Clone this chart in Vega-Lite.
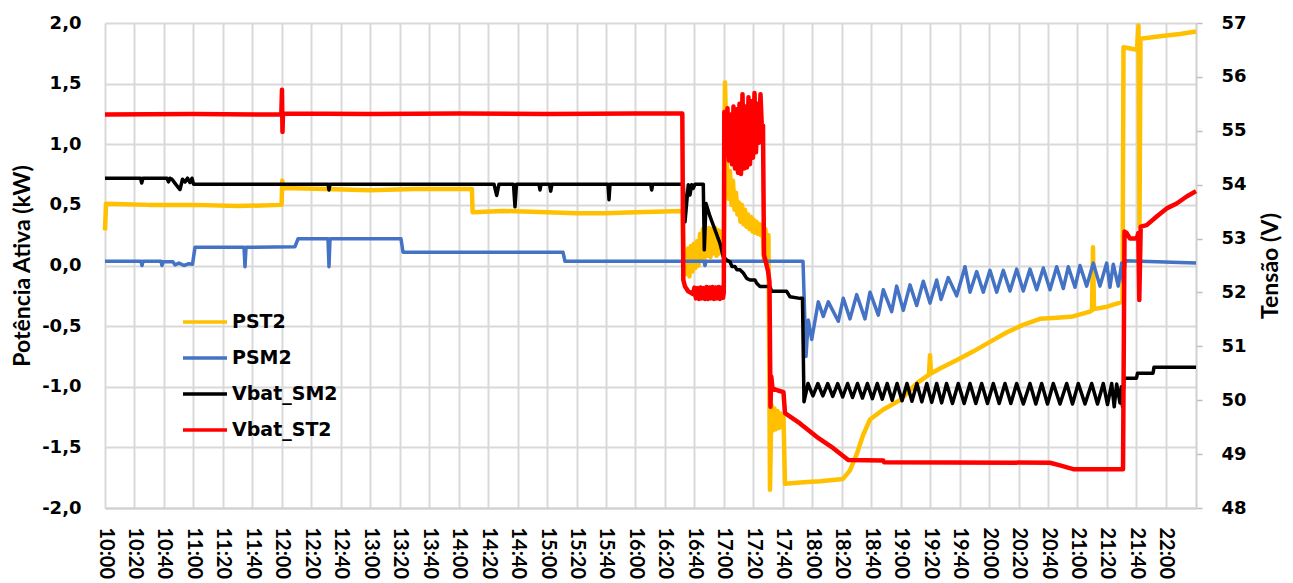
{
  "$schema": "https://vega.github.io/schema/vega-lite/v6.json",
  "width": 1091,
  "height": 485,
  "autosize": "none",
  "padding": {"left": 105, "top": 23, "right": 97, "bottom": 75},
  "background": "#ffffff",
  "config": {
    "view": {"stroke": null},
    "line": {"strokeJoin": "round", "strokeCap": "butt"},
    "legend": {
      "orient": "none", "legendX": 87, "legendY": 286, "title": null,
      "symbolType": "M-2,0H2", "symbolSize": 484, "symbolStrokeWidth": 3.5,
      "labelFont": "DejaVu Sans", "labelFontWeight": "bold", "labelFontSize": 19, "labelColor": "#000000",
      "labelOffset": 14, "rowPadding": 13, "padding": 0
    }
  },
  "datasets": {
    "pst2": [
      {"t": "2021-06-01T10:00:00", "v": 0.29}, {"t": "2021-06-01T10:00:41", "v": 0.51}, {"t": "2021-06-01T10:30:00", "v": 0.50},
      {"t": "2021-06-01T11:00:00", "v": 0.50}, {"t": "2021-06-01T11:30:00", "v": 0.49}, {"t": "2021-06-01T11:59:50", "v": 0.50},
      {"t": "2021-06-01T12:00:20", "v": 0.70}, {"t": "2021-06-01T12:01:00", "v": 0.64}, {"t": "2021-06-01T12:30:00", "v": 0.63},
      {"t": "2021-06-01T13:00:00", "v": 0.62}, {"t": "2021-06-01T13:30:00", "v": 0.63}, {"t": "2021-06-01T14:09:00", "v": 0.63},
      {"t": "2021-06-01T14:09:30", "v": 0.44}, {"t": "2021-06-01T14:30:00", "v": 0.45}, {"t": "2021-06-01T15:00:00", "v": 0.44},
      {"t": "2021-06-01T15:20:00", "v": 0.43}, {"t": "2021-06-01T15:40:00", "v": 0.43}, {"t": "2021-06-01T16:00:00", "v": 0.44},
      {"t": "2021-06-01T16:32:00", "v": 0.45}, {"t": "2021-06-01T16:32:40", "v": 0.10}, {"t": "2021-06-01T16:33:38", "v": 0.12},
      {"t": "2021-06-01T16:34:39", "v": -0.07}, {"t": "2021-06-01T16:35:40", "v": 0.14}, {"t": "2021-06-01T16:36:41", "v": -0.09},
      {"t": "2021-06-01T16:37:42", "v": 0.16}, {"t": "2021-06-01T16:38:44", "v": -0.05}, {"t": "2021-06-01T16:39:45", "v": 0.18},
      {"t": "2021-06-01T16:40:46", "v": -0.02}, {"t": "2021-06-01T16:41:47", "v": 0.20}, {"t": "2021-06-01T16:42:48", "v": 0.00},
      {"t": "2021-06-01T16:43:49", "v": 0.26}, {"t": "2021-06-01T16:44:50", "v": 0.05}, {"t": "2021-06-01T16:45:51", "v": 0.30},
      {"t": "2021-06-01T16:46:52", "v": 0.06}, {"t": "2021-06-01T16:47:53", "v": 0.29}, {"t": "2021-06-01T16:48:54", "v": 0.08},
      {"t": "2021-06-01T16:49:55", "v": 0.31}, {"t": "2021-06-01T16:50:56", "v": 0.07}, {"t": "2021-06-01T16:51:57", "v": 0.30},
      {"t": "2021-06-01T16:52:58", "v": 0.10}, {"t": "2021-06-01T16:53:59", "v": 0.31}, {"t": "2021-06-01T16:55:00", "v": 0.08},
      {"t": "2021-06-01T16:56:01", "v": 0.29}, {"t": "2021-06-01T16:57:02", "v": 0.10}, {"t": "2021-06-01T16:58:04", "v": 0.28},
      {"t": "2021-06-01T16:59:05", "v": 0.12}, {"t": "2021-06-01T17:00:06", "v": 0.30}, {"t": "2021-06-01T17:00:46", "v": 1.51},
      {"t": "2021-06-01T17:02:08", "v": 0.82}, {"t": "2021-06-01T17:03:09", "v": 0.55}, {"t": "2021-06-01T17:04:10", "v": 0.78},
      {"t": "2021-06-01T17:05:11", "v": 0.50}, {"t": "2021-06-01T17:06:12", "v": 0.70}, {"t": "2021-06-01T17:07:13", "v": 0.46},
      {"t": "2021-06-01T17:08:14", "v": 0.60}, {"t": "2021-06-01T17:09:15", "v": 0.42}, {"t": "2021-06-01T17:10:16", "v": 0.52},
      {"t": "2021-06-01T17:11:17", "v": 0.36}, {"t": "2021-06-01T17:12:18", "v": 0.50}, {"t": "2021-06-01T17:13:19", "v": 0.34},
      {"t": "2021-06-01T17:14:20", "v": 0.46}, {"t": "2021-06-01T17:15:21", "v": 0.32}, {"t": "2021-06-01T17:16:22", "v": 0.42},
      {"t": "2021-06-01T17:17:23", "v": 0.30}, {"t": "2021-06-01T17:18:24", "v": 0.40}, {"t": "2021-06-01T17:19:25", "v": 0.28},
      {"t": "2021-06-01T17:20:07", "v": 0.38}, {"t": "2021-06-01T17:21:08", "v": 0.27}, {"t": "2021-06-01T17:22:09", "v": 0.36},
      {"t": "2021-06-01T17:23:10", "v": 0.26}, {"t": "2021-06-01T17:24:11", "v": 0.34}, {"t": "2021-06-01T17:25:12", "v": 0.25},
      {"t": "2021-06-01T17:26:13", "v": 0.33}, {"t": "2021-06-01T17:27:14", "v": 0.05}, {"t": "2021-06-01T17:28:15", "v": 0.30},
      {"t": "2021-06-01T17:29:16", "v": 0.00}, {"t": "2021-06-01T17:30:17", "v": 0.25}, {"t": "2021-06-01T17:31:18", "v": -1.85},
      {"t": "2021-06-01T17:32:19", "v": -1.15}, {"t": "2021-06-01T17:33:20", "v": -1.36}, {"t": "2021-06-01T17:34:22", "v": -1.18},
      {"t": "2021-06-01T17:35:23", "v": -1.35}, {"t": "2021-06-01T17:36:24", "v": -1.20}, {"t": "2021-06-01T17:37:25", "v": -1.34},
      {"t": "2021-06-01T17:38:26", "v": -1.22}, {"t": "2021-06-01T17:39:27", "v": -1.33}, {"t": "2021-06-01T17:40:28", "v": -1.25},
      {"t": "2021-06-01T17:41:30", "v": -1.80}, {"t": "2021-06-01T17:51:40", "v": -1.79}, {"t": "2021-06-01T18:05:15", "v": -1.78},
      {"t": "2021-06-01T18:20:51", "v": -1.76}, {"t": "2021-06-01T18:25:36", "v": -1.69}, {"t": "2021-06-01T18:30:21", "v": -1.55},
      {"t": "2021-06-01T18:34:26", "v": -1.40}, {"t": "2021-06-01T18:39:11", "v": -1.27}, {"t": "2021-06-01T18:48:00", "v": -1.19},
      {"t": "2021-06-01T18:59:32", "v": -1.11}, {"t": "2021-06-01T19:11:05", "v": -0.97}, {"t": "2021-06-01T19:19:13", "v": -0.90},
      {"t": "2021-06-01T19:19:54", "v": -0.74}, {"t": "2021-06-01T19:20:35", "v": -0.89}, {"t": "2021-06-01T19:26:41", "v": -0.85},
      {"t": "2021-06-01T19:38:13", "v": -0.78}, {"t": "2021-06-01T19:49:05", "v": -0.71}, {"t": "2021-06-01T20:00:37", "v": -0.63},
      {"t": "2021-06-01T20:12:09", "v": -0.55}, {"t": "2021-06-01T20:23:01", "v": -0.49}, {"t": "2021-06-01T20:34:33", "v": -0.44},
      {"t": "2021-06-01T20:46:05", "v": -0.43}, {"t": "2021-06-01T20:56:57", "v": -0.42}, {"t": "2021-06-01T21:08:29", "v": -0.38},
      {"t": "2021-06-01T21:09:51", "v": -0.37}, {"t": "2021-06-01T21:10:31", "v": 0.15}, {"t": "2021-06-01T21:11:12", "v": -0.36},
      {"t": "2021-06-01T21:20:01", "v": -0.34}, {"t": "2021-06-01T21:30:33", "v": -0.30}, {"t": "2021-06-01T21:31:14", "v": 1.80},
      {"t": "2021-06-01T21:40:23", "v": 1.78}, {"t": "2021-06-01T21:41:25", "v": 1.98}, {"t": "2021-06-01T21:42:05", "v": 0.32},
      {"t": "2021-06-01T21:42:46", "v": 1.87}, {"t": "2021-06-01T21:56:00", "v": 1.89}, {"t": "2021-06-01T22:09:34", "v": 1.91},
      {"t": "2021-06-01T22:20:26", "v": 1.93}
    ],
    "psm2": [
      {"t": "2021-06-01T10:00:00", "v": 0.035}, {"t": "2021-06-01T10:24:26", "v": 0.035}, {"t": "2021-06-01T10:25:07", "v": 0.0},
      {"t": "2021-06-01T10:25:47", "v": 0.035}, {"t": "2021-06-01T10:38:00", "v": 0.035}, {"t": "2021-06-01T10:38:41", "v": 0.0},
      {"t": "2021-06-01T10:39:22", "v": 0.03}, {"t": "2021-06-01T10:46:09", "v": 0.03}, {"t": "2021-06-01T10:47:30", "v": 0.005},
      {"t": "2021-06-01T10:50:13", "v": 0.02}, {"t": "2021-06-01T10:53:37", "v": 0.0}, {"t": "2021-06-01T10:57:00", "v": 0.015},
      {"t": "2021-06-01T10:59:23", "v": 0.01}, {"t": "2021-06-01T11:01:05", "v": 0.15}, {"t": "2021-06-01T11:34:20", "v": 0.15},
      {"t": "2021-06-01T11:35:01", "v": -0.01}, {"t": "2021-06-01T11:35:42", "v": 0.15}, {"t": "2021-06-01T12:08:57", "v": 0.155},
      {"t": "2021-06-01T12:10:59", "v": 0.22}, {"t": "2021-06-01T12:31:21", "v": 0.22}, {"t": "2021-06-01T12:32:01", "v": -0.01},
      {"t": "2021-06-01T12:32:42", "v": 0.22}, {"t": "2021-06-01T13:20:53", "v": 0.22}, {"t": "2021-06-01T13:22:15", "v": 0.11},
      {"t": "2021-06-01T15:10:50", "v": 0.11}, {"t": "2021-06-01T15:12:11", "v": 0.035}, {"t": "2021-06-01T16:46:31", "v": 0.035},
      {"t": "2021-06-01T16:47:12", "v": 0.0}, {"t": "2021-06-01T16:47:53", "v": 0.035}, {"t": "2021-06-01T17:53:43", "v": 0.035},
      {"t": "2021-06-01T17:55:45", "v": -0.75}, {"t": "2021-06-01T17:57:18", "v": -0.45}, {"t": "2021-06-01T17:59:37", "v": -0.61},
      {"t": "2021-06-01T18:04:06", "v": -0.30}, {"t": "2021-06-01T18:07:29", "v": -0.42}, {"t": "2021-06-01T18:10:53", "v": -0.30},
      {"t": "2021-06-01T18:17:40", "v": -0.46}, {"t": "2021-06-01T18:21:04", "v": -0.27}, {"t": "2021-06-01T18:25:36", "v": -0.44},
      {"t": "2021-06-01T18:30:09", "v": -0.24}, {"t": "2021-06-01T18:35:47", "v": -0.44}, {"t": "2021-06-01T18:39:11", "v": -0.22},
      {"t": "2021-06-01T18:44:49", "v": -0.41}, {"t": "2021-06-01T18:48:12", "v": -0.20}, {"t": "2021-06-01T18:53:54", "v": -0.38},
      {"t": "2021-06-01T18:57:18", "v": -0.17}, {"t": "2021-06-01T19:01:47", "v": -0.37}, {"t": "2021-06-01T19:06:20", "v": -0.16},
      {"t": "2021-06-01T19:10:52", "v": -0.33}, {"t": "2021-06-01T19:15:21", "v": -0.13}, {"t": "2021-06-01T19:19:54", "v": -0.31},
      {"t": "2021-06-01T19:24:27", "v": -0.12}, {"t": "2021-06-01T19:27:22", "v": -0.28}, {"t": "2021-06-01T19:32:19", "v": -0.10},
      {"t": "2021-06-01T19:38:01", "v": -0.25}, {"t": "2021-06-01T19:43:39", "v": -0.01}, {"t": "2021-06-01T19:47:03", "v": -0.22},
      {"t": "2021-06-01T19:51:36", "v": -0.05}, {"t": "2021-06-01T19:56:04", "v": -0.22}, {"t": "2021-06-01T20:00:37", "v": -0.04},
      {"t": "2021-06-01T20:05:10", "v": -0.22}, {"t": "2021-06-01T20:09:39", "v": -0.04}, {"t": "2021-06-01T20:14:12", "v": -0.21},
      {"t": "2021-06-01T20:18:44", "v": -0.03}, {"t": "2021-06-01T20:23:13", "v": -0.21}, {"t": "2021-06-01T20:27:46", "v": -0.03},
      {"t": "2021-06-01T20:32:19", "v": -0.20}, {"t": "2021-06-01T20:36:48", "v": -0.02}, {"t": "2021-06-01T20:41:20", "v": -0.20},
      {"t": "2021-06-01T20:45:53", "v": -0.01}, {"t": "2021-06-01T20:50:22", "v": -0.19}, {"t": "2021-06-01T20:53:46", "v": -0.01},
      {"t": "2021-06-01T20:58:18", "v": -0.18}, {"t": "2021-06-01T21:01:42", "v": 0.0}, {"t": "2021-06-01T21:06:15", "v": -0.17},
      {"t": "2021-06-01T21:10:44", "v": 0.02}, {"t": "2021-06-01T21:15:16", "v": -0.17}, {"t": "2021-06-01T21:19:49", "v": 0.02},
      {"t": "2021-06-01T21:22:03", "v": -0.18}, {"t": "2021-06-01T21:24:18", "v": 0.01}, {"t": "2021-06-01T21:27:40", "v": -0.17},
      {"t": "2021-06-01T21:30:00", "v": 0.02}, {"t": "2021-06-01T21:31:05", "v": -0.14}, {"t": "2021-06-01T21:32:14", "v": 0.04},
      {"t": "2021-06-01T22:20:26", "v": 0.02}
    ],
    "vsm2": [
      {"t": "2021-06-01T10:00:00", "v": 54.12}, {"t": "2021-06-01T10:24:06", "v": 54.12}, {"t": "2021-06-01T10:24:54", "v": 54.03},
      {"t": "2021-06-01T10:25:47", "v": 54.12}, {"t": "2021-06-01T10:42:05", "v": 54.12}, {"t": "2021-06-01T10:43:06", "v": 54.05},
      {"t": "2021-06-01T10:44:07", "v": 54.12}, {"t": "2021-06-01T10:45:28", "v": 54.10}, {"t": "2021-06-01T10:48:11", "v": 54.00},
      {"t": "2021-06-01T10:50:54", "v": 53.91}, {"t": "2021-06-01T10:52:36", "v": 54.10}, {"t": "2021-06-01T10:54:18", "v": 54.05},
      {"t": "2021-06-01T10:55:59", "v": 54.12}, {"t": "2021-06-01T10:57:41", "v": 54.04}, {"t": "2021-06-01T10:59:03", "v": 54.12},
      {"t": "2021-06-01T11:00:04", "v": 54.01}, {"t": "2021-06-01T12:31:21", "v": 54.01}, {"t": "2021-06-01T12:32:01", "v": 53.90},
      {"t": "2021-06-01T12:32:42", "v": 54.01}, {"t": "2021-06-01T14:24:00", "v": 54.01}, {"t": "2021-06-01T14:25:50", "v": 53.80},
      {"t": "2021-06-01T14:27:24", "v": 54.01}, {"t": "2021-06-01T14:37:14", "v": 54.01}, {"t": "2021-06-01T14:38:15", "v": 53.59},
      {"t": "2021-06-01T14:39:16", "v": 54.01}, {"t": "2021-06-01T14:54:32", "v": 54.01}, {"t": "2021-06-01T14:55:13", "v": 53.90},
      {"t": "2021-06-01T14:55:54", "v": 54.01}, {"t": "2021-06-01T15:01:40", "v": 54.01}, {"t": "2021-06-01T15:02:29", "v": 53.88},
      {"t": "2021-06-01T15:03:22", "v": 54.01}, {"t": "2021-06-01T15:41:22", "v": 54.01}, {"t": "2021-06-01T15:42:03", "v": 53.72},
      {"t": "2021-06-01T15:42:44", "v": 54.01}, {"t": "2021-06-01T16:10:21", "v": 54.01}, {"t": "2021-06-01T16:11:02", "v": 53.90},
      {"t": "2021-06-01T16:11:42", "v": 54.01}, {"t": "2021-06-01T16:32:29", "v": 54.01}, {"t": "2021-06-01T16:33:38", "v": 53.31},
      {"t": "2021-06-01T16:35:52", "v": 54.00}, {"t": "2021-06-01T16:37:01", "v": 53.81}, {"t": "2021-06-01T16:38:10", "v": 54.00},
      {"t": "2021-06-01T16:39:15", "v": 53.93}, {"t": "2021-06-01T16:40:25", "v": 54.01}, {"t": "2021-06-01T16:46:03", "v": 54.01},
      {"t": "2021-06-01T16:46:44", "v": 52.79}, {"t": "2021-06-01T16:47:53", "v": 53.65}, {"t": "2021-06-01T16:50:36", "v": 53.41},
      {"t": "2021-06-01T16:53:59", "v": 53.16}, {"t": "2021-06-01T16:57:23", "v": 52.91}, {"t": "2021-06-01T16:59:37", "v": 52.66},
      {"t": "2021-06-01T17:01:56", "v": 52.60}, {"t": "2021-06-01T17:04:10", "v": 52.57}, {"t": "2021-06-01T17:05:31", "v": 52.48},
      {"t": "2021-06-01T17:07:34", "v": 52.48}, {"t": "2021-06-01T17:08:55", "v": 52.42}, {"t": "2021-06-01T17:10:57", "v": 52.42},
      {"t": "2021-06-01T17:13:12", "v": 52.36}, {"t": "2021-06-01T17:15:30", "v": 52.26}, {"t": "2021-06-01T17:17:44", "v": 52.23},
      {"t": "2021-06-01T17:21:08", "v": 52.23}, {"t": "2021-06-01T17:22:17", "v": 52.17}, {"t": "2021-06-01T17:24:32", "v": 52.11},
      {"t": "2021-06-01T17:31:18", "v": 52.11}, {"t": "2021-06-01T17:32:27", "v": 52.02}, {"t": "2021-06-01T17:42:38", "v": 52.02},
      {"t": "2021-06-01T17:44:53", "v": 51.92}, {"t": "2021-06-01T17:51:40", "v": 51.89}, {"t": "2021-06-01T17:53:22", "v": 51.89},
      {"t": "2021-06-01T17:54:23", "v": 49.97}, {"t": "2021-06-01T17:57:06", "v": 50.31}, {"t": "2021-06-01T18:00:28", "v": 50.08},
      {"t": "2021-06-01T18:03:49", "v": 50.31}, {"t": "2021-06-01T18:07:11", "v": 50.08}, {"t": "2021-06-01T18:10:32", "v": 50.31},
      {"t": "2021-06-01T18:13:54", "v": 50.07}, {"t": "2021-06-01T18:17:16", "v": 50.31}, {"t": "2021-06-01T18:20:37", "v": 50.06},
      {"t": "2021-06-01T18:23:59", "v": 50.31}, {"t": "2021-06-01T18:27:20", "v": 50.05}, {"t": "2021-06-01T18:30:42", "v": 50.31},
      {"t": "2021-06-01T18:34:03", "v": 50.04}, {"t": "2021-06-01T18:37:25", "v": 50.31}, {"t": "2021-06-01T18:40:47", "v": 50.03},
      {"t": "2021-06-01T18:44:08", "v": 50.31}, {"t": "2021-06-01T18:47:30", "v": 50.02}, {"t": "2021-06-01T18:50:51", "v": 50.31},
      {"t": "2021-06-01T18:54:13", "v": 50.00}, {"t": "2021-06-01T18:57:34", "v": 50.31}, {"t": "2021-06-01T19:00:56", "v": 49.99},
      {"t": "2021-06-01T19:04:17", "v": 50.31}, {"t": "2021-06-01T19:07:39", "v": 49.98}, {"t": "2021-06-01T19:11:01", "v": 50.31},
      {"t": "2021-06-01T19:14:22", "v": 49.97}, {"t": "2021-06-01T19:17:44", "v": 50.31}, {"t": "2021-06-01T19:21:05", "v": 49.96},
      {"t": "2021-06-01T19:24:27", "v": 50.31}, {"t": "2021-06-01T19:27:48", "v": 49.95}, {"t": "2021-06-01T19:31:10", "v": 50.31},
      {"t": "2021-06-01T19:35:08", "v": 49.94}, {"t": "2021-06-01T19:39:06", "v": 50.31}, {"t": "2021-06-01T19:43:05", "v": 49.94},
      {"t": "2021-06-01T19:47:03", "v": 50.31}, {"t": "2021-06-01T19:51:01", "v": 49.94}, {"t": "2021-06-01T19:54:59", "v": 50.31},
      {"t": "2021-06-01T19:58:55", "v": 49.94}, {"t": "2021-06-01T20:02:52", "v": 50.31}, {"t": "2021-06-01T20:06:50", "v": 49.94},
      {"t": "2021-06-01T20:10:48", "v": 50.31}, {"t": "2021-06-01T20:14:46", "v": 49.94}, {"t": "2021-06-01T20:18:44", "v": 50.31},
      {"t": "2021-06-01T20:23:15", "v": 49.93}, {"t": "2021-06-01T20:27:46", "v": 50.31}, {"t": "2021-06-01T20:31:44", "v": 49.93},
      {"t": "2021-06-01T20:35:42", "v": 50.31}, {"t": "2021-06-01T20:39:39", "v": 49.93}, {"t": "2021-06-01T20:43:35", "v": 50.31},
      {"t": "2021-06-01T20:48:08", "v": 49.93}, {"t": "2021-06-01T20:52:40", "v": 50.31}, {"t": "2021-06-01T20:56:37", "v": 49.93},
      {"t": "2021-06-01T21:00:33", "v": 50.31}, {"t": "2021-06-01T21:05:06", "v": 49.93}, {"t": "2021-06-01T21:09:38", "v": 50.31},
      {"t": "2021-06-01T21:13:35", "v": 49.93}, {"t": "2021-06-01T21:17:31", "v": 50.31}, {"t": "2021-06-01T21:20:22", "v": 49.92},
      {"t": "2021-06-01T21:23:13", "v": 50.31}, {"t": "2021-06-01T21:24:55", "v": 49.88}, {"t": "2021-06-01T21:26:36", "v": 50.30},
      {"t": "2021-06-01T21:28:51", "v": 49.95}, {"t": "2021-06-01T21:29:45", "v": 50.25}, {"t": "2021-06-01T21:30:33", "v": 49.88},
      {"t": "2021-06-01T21:31:34", "v": 50.41}, {"t": "2021-06-01T21:40:03", "v": 50.41}, {"t": "2021-06-01T21:40:43", "v": 50.50},
      {"t": "2021-06-01T21:51:15", "v": 50.50}, {"t": "2021-06-01T21:51:55", "v": 50.61}, {"t": "2021-06-01T22:20:26", "v": 50.61}
    ],
    "vst2": [
      {"t": "2021-06-01T10:00:00", "v": 55.30}, {"t": "2021-06-01T11:00:00", "v": 55.31}, {"t": "2021-06-01T11:59:40", "v": 55.30},
      {"t": "2021-06-01T12:00:07", "v": 55.76}, {"t": "2021-06-01T12:00:27", "v": 54.98}, {"t": "2021-06-01T12:00:48", "v": 55.32},
      {"t": "2021-06-01T13:00:00", "v": 55.31}, {"t": "2021-06-01T14:00:00", "v": 55.32}, {"t": "2021-06-01T15:00:00", "v": 55.31},
      {"t": "2021-06-01T16:00:00", "v": 55.32}, {"t": "2021-06-01T16:31:48", "v": 55.32}, {"t": "2021-06-01T16:32:29", "v": 52.23},
      {"t": "2021-06-01T16:33:38", "v": 52.11}, {"t": "2021-06-01T16:35:52", "v": 52.02}, {"t": "2021-06-01T16:39:03", "v": 51.97},
      {"t": "2021-06-01T16:40:04", "v": 52.09}, {"t": "2021-06-01T16:41:06", "v": 51.89}, {"t": "2021-06-01T16:42:07", "v": 52.08},
      {"t": "2021-06-01T16:43:08", "v": 51.88}, {"t": "2021-06-01T16:44:09", "v": 52.09}, {"t": "2021-06-01T16:45:10", "v": 51.89},
      {"t": "2021-06-01T16:46:11", "v": 52.08}, {"t": "2021-06-01T16:47:12", "v": 51.88}, {"t": "2021-06-01T16:48:13", "v": 52.10},
      {"t": "2021-06-01T16:49:14", "v": 51.88}, {"t": "2021-06-01T16:50:15", "v": 52.09}, {"t": "2021-06-01T16:51:16", "v": 51.89},
      {"t": "2021-06-01T16:52:17", "v": 52.10}, {"t": "2021-06-01T16:53:18", "v": 51.88}, {"t": "2021-06-01T16:54:19", "v": 52.09},
      {"t": "2021-06-01T16:55:21", "v": 51.89}, {"t": "2021-06-01T16:56:22", "v": 52.10}, {"t": "2021-06-01T16:57:23", "v": 51.88},
      {"t": "2021-06-01T16:58:24", "v": 52.09}, {"t": "2021-06-01T16:59:25", "v": 51.90}, {"t": "2021-06-01T16:59:58", "v": 52.00},
      {"t": "2021-06-01T17:00:18", "v": 55.35}, {"t": "2021-06-01T17:01:27", "v": 54.55}, {"t": "2021-06-01T17:02:28", "v": 55.42},
      {"t": "2021-06-01T17:03:29", "v": 54.45}, {"t": "2021-06-01T17:04:30", "v": 55.30}, {"t": "2021-06-01T17:05:31", "v": 54.38},
      {"t": "2021-06-01T17:06:32", "v": 55.45}, {"t": "2021-06-01T17:07:34", "v": 54.30}, {"t": "2021-06-01T17:08:35", "v": 55.40},
      {"t": "2021-06-01T17:09:36", "v": 54.22}, {"t": "2021-06-01T17:10:37", "v": 55.50}, {"t": "2021-06-01T17:11:38", "v": 54.20},
      {"t": "2021-06-01T17:12:39", "v": 55.68}, {"t": "2021-06-01T17:13:40", "v": 54.30}, {"t": "2021-06-01T17:14:41", "v": 55.45},
      {"t": "2021-06-01T17:15:42", "v": 54.32}, {"t": "2021-06-01T17:16:43", "v": 55.62}, {"t": "2021-06-01T17:17:44", "v": 54.38},
      {"t": "2021-06-01T17:18:45", "v": 55.55}, {"t": "2021-06-01T17:19:47", "v": 54.50}, {"t": "2021-06-01T17:20:48", "v": 55.70},
      {"t": "2021-06-01T17:21:49", "v": 54.60}, {"t": "2021-06-01T17:22:50", "v": 55.50}, {"t": "2021-06-01T17:23:51", "v": 54.78},
      {"t": "2021-06-01T17:24:52", "v": 55.68}, {"t": "2021-06-01T17:25:53", "v": 55.00}, {"t": "2021-06-01T17:26:34", "v": 55.10},
      {"t": "2021-06-01T17:27:14", "v": 52.70}, {"t": "2021-06-01T17:28:36", "v": 52.55}, {"t": "2021-06-01T17:29:57", "v": 52.40},
      {"t": "2021-06-01T17:30:58", "v": 52.20}, {"t": "2021-06-01T17:31:39", "v": 49.88}, {"t": "2021-06-01T17:32:11", "v": 50.44},
      {"t": "2021-06-01T17:33:00", "v": 50.22}, {"t": "2021-06-01T17:36:44", "v": 50.18}, {"t": "2021-06-01T17:40:28", "v": 50.15},
      {"t": "2021-06-01T17:41:30", "v": 49.76}, {"t": "2021-06-01T17:51:40", "v": 49.57}, {"t": "2021-06-01T18:03:00", "v": 49.32},
      {"t": "2021-06-01T18:14:16", "v": 49.11}, {"t": "2021-06-01T18:24:27", "v": 48.89}, {"t": "2021-06-01T18:48:12", "v": 48.88},
      {"t": "2021-06-01T18:48:41", "v": 48.85}, {"t": "2021-06-01T20:41:20", "v": 48.84}, {"t": "2021-06-01T20:48:08", "v": 48.79},
      {"t": "2021-06-01T20:57:09", "v": 48.72}, {"t": "2021-06-01T21:30:54", "v": 48.72}, {"t": "2021-06-01T21:31:55", "v": 53.13},
      {"t": "2021-06-01T21:33:24", "v": 53.10}, {"t": "2021-06-01T21:35:38", "v": 53.00}, {"t": "2021-06-01T21:40:11", "v": 53.00},
      {"t": "2021-06-01T21:41:16", "v": 53.10}, {"t": "2021-06-01T21:41:57", "v": 51.86}, {"t": "2021-06-01T21:42:54", "v": 53.22},
      {"t": "2021-06-01T21:46:58", "v": 53.25}, {"t": "2021-06-01T21:53:46", "v": 53.41}, {"t": "2021-06-01T22:00:33", "v": 53.56},
      {"t": "2021-06-01T22:07:20", "v": 53.65}, {"t": "2021-06-01T22:14:07", "v": 53.78}, {"t": "2021-06-01T22:20:26", "v": 53.88}
    ]
  },
  "encoding": {
    "x": {
      "field": "t", "type": "temporal",
      "scale": {"domain": [{"year": 2021, "month": 6, "date": 1, "hours": 10, "minutes": 0}, {"year": 2021, "month": 6, "date": 1, "hours": 22, "minutes": 20, "seconds": 26}], "nice": false},
      "axis": {
        "title": null, "format": "%H:%M",
        "values": [
          {"year": 2021, "month": 6, "date": 1, "hours": 10, "minutes": 0}, {"year": 2021, "month": 6, "date": 1, "hours": 10, "minutes": 20}, {"year": 2021, "month": 6, "date": 1, "hours": 10, "minutes": 40},
          {"year": 2021, "month": 6, "date": 1, "hours": 11, "minutes": 0}, {"year": 2021, "month": 6, "date": 1, "hours": 11, "minutes": 20}, {"year": 2021, "month": 6, "date": 1, "hours": 11, "minutes": 40},
          {"year": 2021, "month": 6, "date": 1, "hours": 12, "minutes": 0}, {"year": 2021, "month": 6, "date": 1, "hours": 12, "minutes": 20}, {"year": 2021, "month": 6, "date": 1, "hours": 12, "minutes": 40},
          {"year": 2021, "month": 6, "date": 1, "hours": 13, "minutes": 0}, {"year": 2021, "month": 6, "date": 1, "hours": 13, "minutes": 20}, {"year": 2021, "month": 6, "date": 1, "hours": 13, "minutes": 40},
          {"year": 2021, "month": 6, "date": 1, "hours": 14, "minutes": 0}, {"year": 2021, "month": 6, "date": 1, "hours": 14, "minutes": 20}, {"year": 2021, "month": 6, "date": 1, "hours": 14, "minutes": 40},
          {"year": 2021, "month": 6, "date": 1, "hours": 15, "minutes": 0}, {"year": 2021, "month": 6, "date": 1, "hours": 15, "minutes": 20}, {"year": 2021, "month": 6, "date": 1, "hours": 15, "minutes": 40},
          {"year": 2021, "month": 6, "date": 1, "hours": 16, "minutes": 0}, {"year": 2021, "month": 6, "date": 1, "hours": 16, "minutes": 20}, {"year": 2021, "month": 6, "date": 1, "hours": 16, "minutes": 40},
          {"year": 2021, "month": 6, "date": 1, "hours": 17, "minutes": 0}, {"year": 2021, "month": 6, "date": 1, "hours": 17, "minutes": 20}, {"year": 2021, "month": 6, "date": 1, "hours": 17, "minutes": 40},
          {"year": 2021, "month": 6, "date": 1, "hours": 18, "minutes": 0}, {"year": 2021, "month": 6, "date": 1, "hours": 18, "minutes": 20}, {"year": 2021, "month": 6, "date": 1, "hours": 18, "minutes": 40},
          {"year": 2021, "month": 6, "date": 1, "hours": 19, "minutes": 0}, {"year": 2021, "month": 6, "date": 1, "hours": 19, "minutes": 20}, {"year": 2021, "month": 6, "date": 1, "hours": 19, "minutes": 40},
          {"year": 2021, "month": 6, "date": 1, "hours": 20, "minutes": 0}, {"year": 2021, "month": 6, "date": 1, "hours": 20, "minutes": 20}, {"year": 2021, "month": 6, "date": 1, "hours": 20, "minutes": 40},
          {"year": 2021, "month": 6, "date": 1, "hours": 21, "minutes": 0}, {"year": 2021, "month": 6, "date": 1, "hours": 21, "minutes": 20}, {"year": 2021, "month": 6, "date": 1, "hours": 21, "minutes": 40},
          {"year": 2021, "month": 6, "date": 1, "hours": 22, "minutes": 0}
        ],
        "labelAngle": 90, "labelFont": "Lato", "labelFontWeight": "bold", "labelFontSize": 20, "labelColor": "#000000",
        "labelPadding": 19, "labelOverlap": false, "labelFlush": false, "labelBound": false,
        "grid": true, "gridColor": "#d9d9d9", "gridWidth": 2,
        "ticks": false, "tickSize": 0,
        "domain": true, "domainColor": "#d0d0d0", "domainWidth": 2
      }
    }
  },
  "layer": [
    {
      "encoding": {
        "y": {
          "field": "v", "type": "quantitative",
          "scale": {"domain": [-2, 2], "nice": false, "zero": false},
          "axis": {
            "orient": "left", "values": [-2, -1.5, -1, -0.5, 0, 0.5, 1, 1.5, 2],
            "labelExpr": "replace(replace(format(datum.value, '.1f'), '.', ','), '−', '-')",
            "title": "Potência Ativa (kW)", "titleFont": "Lato", "titleFontWeight": "bold", "titleFontSize": 23, "titleColor": "#000000",
            "titleAngle": 270, "titleX": -83, "titleBaseline": "middle",
            "labelFont": "DejaVu Sans", "labelFontWeight": "bold", "labelFontSize": 18, "labelColor": "#000000", "labelPadding": 24,
            "grid": true, "gridColor": "#d9d9d9", "gridWidth": 2,
            "ticks": false, "tickSize": 0, "domain": false
          }
        }
      },
      "layer": [
        {
          "data": {"name": "pst2"},
          "mark": {"type": "line", "strokeWidth": 4.5},
          "encoding": {"color": {"datum": "PST2", "type": "nominal", "scale": {"domain": ["PST2", "PSM2", "Vbat_SM2", "Vbat_ST2"], "range": ["#FFC000", "#4472C4", "#000000", "#FF0000"]}}}
        },
        {
          "data": {"name": "psm2"},
          "mark": {"type": "line", "strokeWidth": 3.5},
          "encoding": {"color": {"datum": "PSM2", "type": "nominal", "scale": {"domain": ["PST2", "PSM2", "Vbat_SM2", "Vbat_ST2"], "range": ["#FFC000", "#4472C4", "#000000", "#FF0000"]}}}
        }
      ]
    },
    {
      "encoding": {
        "y": {
          "field": "v", "type": "quantitative",
          "scale": {"domain": [48, 57], "nice": false, "zero": false},
          "axis": {
            "orient": "right", "values": [48, 49, 50, 51, 52, 53, 54, 55, 56, 57], "format": "d",
            "title": "Tensão (V)", "titleFont": "Lato", "titleFontWeight": "bold", "titleFontSize": 23, "titleColor": "#000000",
            "titleAngle": 270, "titleX": 74, "titleBaseline": "middle",
            "labelFont": "DejaVu Sans", "labelFontWeight": "bold", "labelFontSize": 18, "labelColor": "#000000", "labelPadding": 19,
            "grid": false, "ticks": true, "tickSize": 6, "tickColor": "#bfbfbf", "tickWidth": 1.5,
            "domain": true, "domainColor": "#d0d0d0", "domainWidth": 2
          }
        }
      },
      "layer": [
        {
          "data": {"name": "vsm2"},
          "mark": {"type": "line", "strokeWidth": 3.5},
          "encoding": {"color": {"datum": "Vbat_SM2", "type": "nominal", "scale": {"domain": ["PST2", "PSM2", "Vbat_SM2", "Vbat_ST2"], "range": ["#FFC000", "#4472C4", "#000000", "#FF0000"]}}}
        },
        {
          "data": {"name": "vst2"},
          "mark": {"type": "line", "strokeWidth": 4.5},
          "encoding": {"color": {"datum": "Vbat_ST2", "type": "nominal", "scale": {"domain": ["PST2", "PSM2", "Vbat_SM2", "Vbat_ST2"], "range": ["#FFC000", "#4472C4", "#000000", "#FF0000"]}}}
        }
      ]
    }
  ],
  "resolve": {"scale": {"y": "independent"}}
}
